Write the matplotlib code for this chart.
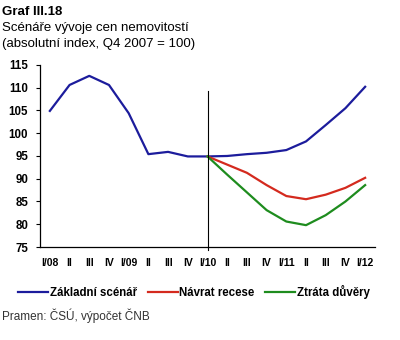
import matplotlib
matplotlib.use("Agg")
import matplotlib.pyplot as plt
from matplotlib.lines import Line2D

plt.rcParams["font.family"] = ["Liberation Sans", "DejaVu Sans"]

# ── data ─────────────────────────────────────────
KVARTALY = ["I/08", "II", "III", "IV", "I/09", "II", "III", "IV", "I/10",
            "II", "III", "IV", "I/11", "II", "III", "IV", "I/12"]

ZAKLADNI = [104.9, 110.6, 112.6, 110.6, 104.4, 95.4, 95.9, 94.9, 94.9,
            95.0, 95.4, 95.7, 96.3, 98.2, 101.8, 105.5, 110.2]
NAVRAT = [None] * 8 + [94.9, 93.1, 91.3, 88.6, 86.2, 85.5, 86.5, 88.0, 90.2]
ZTRATA = [None] * 8 + [94.9, 90.9, 87.0, 83.1, 80.6, 79.8, 82.0, 85.0, 88.6]

SERIE = [("Základní scénář", ZAKLADNI, "#1c1c9c"),
         ("Návrat recese", NAVRAT, "#d42a1e"),
         ("Ztráta důvěry", ZTRATA, "#1e8c1e")]

# ── figure ───────────────────────────────────────
fig = plt.figure(figsize=(4.0, 3.4), dpi=100)
ax = fig.add_axes([0.10, 0.2735, 0.8375, 0.5355])

x = list(range(len(KVARTALY)))
for nome, vals, cor in SERIE:
    pts = [(i, v) for i, v in zip(x, vals) if v is not None]
    ax.plot([p[0] for p in pts], [p[1] for p in pts], color=cor, linewidth=1.6,
            solid_joinstyle="round")

# forecast start marker
ax.plot([8, 8], [74.3, 109.2], color="black", linewidth=0.8, clip_on=False)

ax.set_xlim(-0.5, len(KVARTALY) - 0.5)
ax.set_ylim(75, 115)
ax.set_yticks(range(75, 116, 5))
ax.set_xticks(x)
ax.set_xticklabels(KVARTALY, fontweight="bold")
ax.set_yticklabels([str(v) for v in range(75, 116, 5)], fontweight="bold")
ax.tick_params(axis="x", length=0, labelsize=7.5, pad=8)
ax.tick_params(axis="y", length=3, width=0.8, labelsize=8.3, pad=5.5)
for s in ("top", "right"):
    ax.spines[s].set_visible(False)
for s in ("left", "bottom"):
    ax.spines[s].set_linewidth(0.9)

handles = [Line2D([], [], color=c, linewidth=1.6) for _, _, c in SERIE]
fig.legend(handles, [n for n, _, _ in SERIE], loc="center",
           bbox_to_anchor=(0.485, 0.141), ncol=3, frameon=False,
           prop={"size": 8.3, "weight": "bold"},
           handlelength=2.6, handletextpad=0.15, columnspacing=0.9)

fig.text(0.005, 0.965, "Graf III.18", fontsize=9.5, fontweight="bold", va="center")
fig.text(0.005, 0.918, "Scénáře vývoje cen nemovitostí", fontsize=9.5, va="center")
fig.text(0.005, 0.870, "(absolutní index, Q4 2007 = 100)", fontsize=9.5, va="center")
fig.text(0.005, 0.070, "Pramen: ČSÚ, výpočet ČNB", fontsize=8.5, va="center",
         color="#333333")

fig.savefig("out.png", dpi=100)
